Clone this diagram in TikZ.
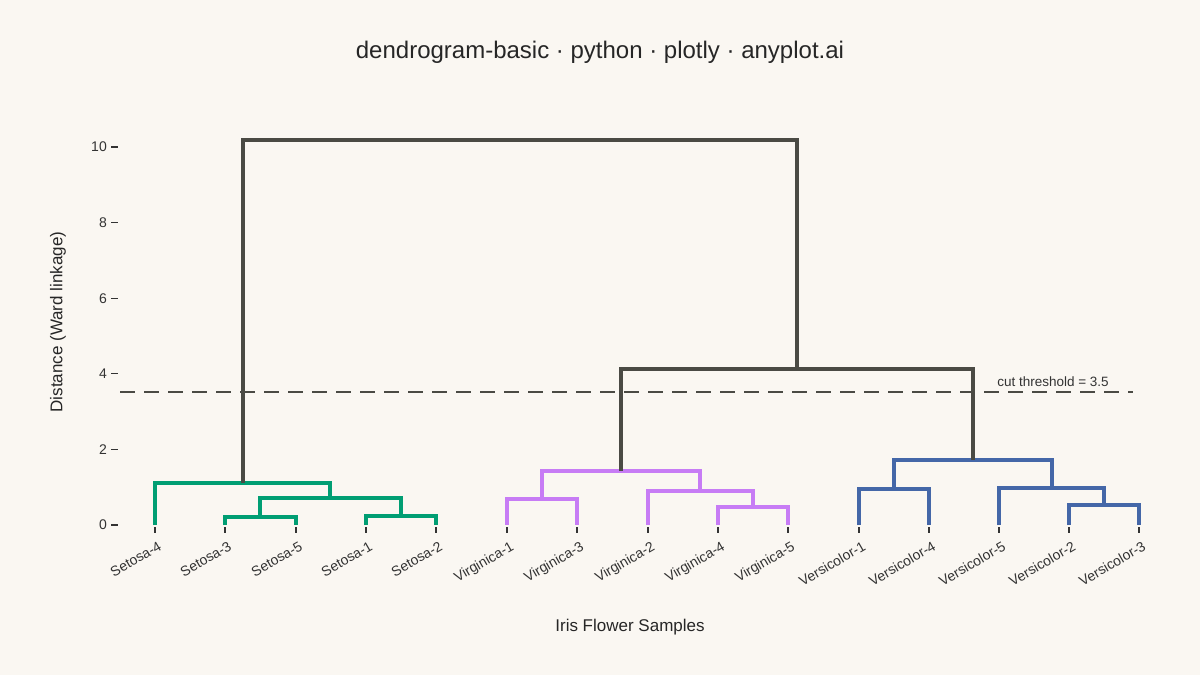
\documentclass[tikz,border=0pt]{standalone}
\usepackage{fontspec}
\setmainfont{Liberation Sans}
\definecolor{bg}{HTML}{FAF7F2}
\definecolor{gr}{HTML}{009E73}
\definecolor{pu}{HTML}{C77CF5}
\definecolor{bl}{HTML}{4467A8}
\definecolor{dk}{HTML}{4A4A44}
\definecolor{tx}{HTML}{333333}
\begin{document}
\begin{tikzpicture}[x=1pt,y=-1pt,
  lk/.style={line width=4pt},
  leaf/.style={font=\fontsize{14}{16}\selectfont,text=tx,rotate=30,anchor=north east,inner sep=1pt},
  tk/.style={font=\fontsize{14}{16}\selectfont,text=tx,anchor=east,inner sep=1pt}]
\fill[bg] (0,0) rectangle (1200,675);
\useasboundingbox (0,0) rectangle (1200,675);
\node[font=\fontsize{24}{28}\selectfont,text=black!85] (title) at (600,52) {dendrogram-basic · python · plotly · anyplot.ai};
\node[font=\fontsize{17}{20}\selectfont,text=black!85] (xl) at (630,627) {Iris Flower Samples};
\node[font=\fontsize{17}{20}\selectfont,text=black!85,rotate=90] (yl) at (58,322) {Distance (Ward linkage)};
\foreach \v/\yy in {0/525,2/449.4,4/373.8,6/298.2,8/222.6,10/147}{
  \draw[tx,line width=1.2pt] (111,\yy) -- (118,\yy);
  \node[tk] (t\v) at (108,\yy) {\v};
}
\foreach \x/\n in {155/Setosa-4,225/Setosa-3,296/Setosa-5,366/Setosa-1,436/Setosa-2,507/Virginica-1,577/Virginica-3,648/Virginica-2,718/Virginica-4,788/Virginica-5,859/Versicolor-1,929/Versicolor-4,999/Versicolor-5,1069/Versicolor-2,1139/Versicolor-3}{
  \draw[tx,line width=1.2pt] (\x,527) -- (\x,533);
  \node[leaf] (\n) at (\x+3,539) {\n};
}
% setosa
\draw[gr,lk] (225,525) |- (296,517) -- (296,525);
\draw[gr,lk] (366,525) |- (436,516) -- (436,525);
\draw[gr,lk] (260,517) |- (401,498) -- (401,516);
\draw[gr,lk] (155,525) |- (330,483) -- (330,498);
% virginica
\draw[pu,lk] (507,525) |- (577,499) -- (577,525);
\draw[pu,lk] (718,525) |- (788,507) -- (788,525);
\draw[pu,lk] (648,525) |- (753,491) -- (753,507);
\draw[pu,lk] (542,499) |- (700,471) -- (700,491);
% versicolor
\draw[bl,lk] (859,525) |- (929,489) -- (929,525);
\draw[bl,lk] (1069,525) |- (1139,505) -- (1139,525);
\draw[bl,lk] (999,525) |- (1104,488) -- (1104,505);
\draw[bl,lk] (894,489) |- (1052,460) -- (1052,488);
% top
\draw[dk,lk] (621,471) |- (973,369) -- (973,460);
\draw[dk,lk] (243,483) |- (797,140) -- (797,369);
\draw[dk,line width=2.8pt,dash pattern=on 15pt off 9pt] (120,392) -- (1133,392);
\node[font=\fontsize{13.5}{16}\selectfont,text=tx] (cut) at (1053,382) {cut threshold = 3.5};
\end{tikzpicture}
\end{document}
